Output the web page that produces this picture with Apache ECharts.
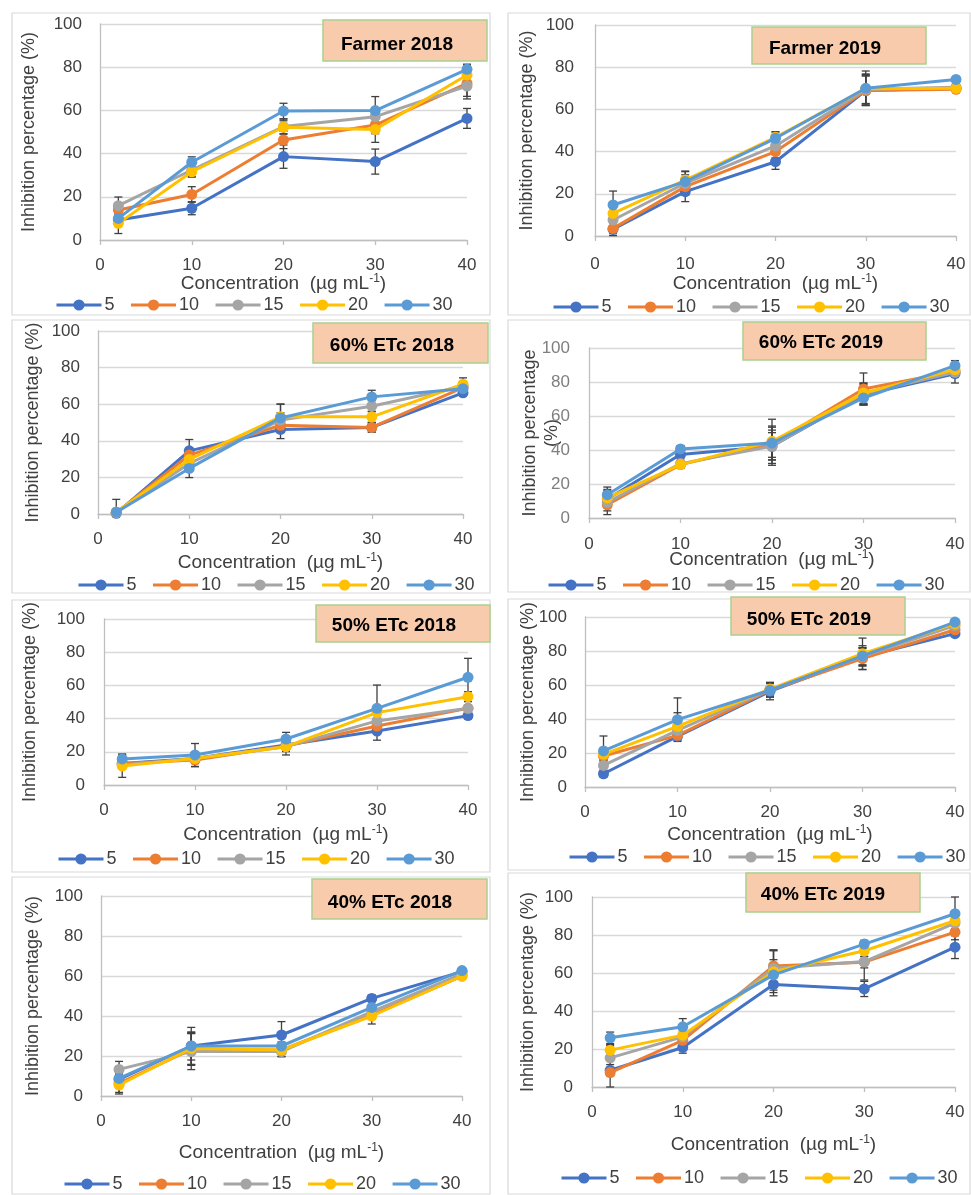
<!DOCTYPE html>
<html>
<head>
<meta charset="utf-8">
<script src="https://cdn.jsdelivr.net/npm/echarts@6/dist/echarts.min.js"></script>
<style>
html,body{margin:0;padding:0;background:#fff;}
#chart{width:971px;height:1195px;}
</style>
</head>
<body>
<div id="chart"></div>
<script>
// ---------------- DATA ----------------
const xValues = [2, 10, 20, 30, 40];
const seriesNames = ['5', '10', '15', '20', '30'];
const xTicks = [0, 10, 20, 30, 40];
const yTicks = [0, 20, 40, 60, 80, 100];

// rows = series 5,10,15,20,30 ; columns = concentrations
const farmer2018 = [
  [9.3, 14.7, 38.6, 36.3, 56.3],
  [13.9, 21.1, 46.3, 53.2, 72.5],
  [15.9, 32.4, 52.5, 57.1, 71.3],
  [7.7, 31.6, 52.2, 51.2, 76.4],
  [10.0, 36.0, 59.7, 59.9, 79.0]
];
const farmer2018Err = [
  [2, 3, 5.4, 5.8, 4.6],
  [3, 3.6, 4, 4, 6],
  [4, 3, 3.5, 4, 6],
  [4.7, 2.5, 3, 6, 5],
  [3, 2.5, 3.6, 6.5, 2]
];
const farmer2019 = [
  [3.2, 21.0, 35.2, 68.9, 70.0],
  [3.6, 23.4, 40.0, 68.9, 69.5],
  [7.6, 25.0, 42.7, 69.5, 70.5],
  [10.7, 26.5, 46.8, 69.8, 70.0],
  [14.7, 25.8, 46.3, 70.0, 74.2]
];
const farmer2019Err = [
  [3, 4.7, 3.6, 7, 1],
  [2.5, 4, 3, 7, 1],
  [3, 4, 3, 7, 1],
  [3, 4, 2.6, 7, 1],
  [6.6, 5, 3, 8.2, 1]
];
const etc60y2018 = [
  [0.4, 34.5, 46.2, 47.3, 66.2],
  [0.7, 32.2, 48.5, 47.3, 69.1],
  [1.0, 27.6, 51.3, 58.9, 69.8],
  [1.0, 29.8, 53.1, 53.1, 70.9],
  [1.0, 24.9, 52.5, 64.0, 68.5]
];
const etc60y2018Err = [
  [1, 6.2, 5, 2.5, 1.5],
  [1.5, 4, 4, 2.5, 2],
  [1.5, 3, 4, 3, 2],
  [2, 3, 7, 3, 3.5],
  [7, 5, 7.5, 3.6, 2]
];
const etc60y2019 = [
  [11.2, 37.3, 42.2, 72.5, 84.9],
  [7.8, 31.4, 43.7, 75.9, 86.3],
  [9.2, 32.0, 42.2, 73.1, 85.7],
  [11.8, 31.4, 45.1, 73.5, 87.3],
  [13.7, 40.6, 44.1, 70.6, 89.6]
];
const etc60y2019Err = [
  [5, 2, 11.2, 6, 5.5],
  [5.8, 2, 8, 9.4, 3],
  [5, 2, 8, 6, 3],
  [5, 2, 13, 6, 3],
  [4.5, 2, 10, 4, 3]
];
const etc50y2018 = [
  [13.0, 16.0, 24.1, 32.5, 41.8],
  [13.0, 15.0, 23.5, 35.5, 46.2],
  [12.0, 16.0, 23.1, 38.6, 46.2],
  [11.4, 16.0, 23.1, 43.6, 53.2],
  [15.7, 18.1, 27.7, 46.2, 64.9]
];
const etc50y2018Err = [
  [2, 2, 3, 5.5, 2],
  [2, 4, 3, 4, 2],
  [2, 3, 3, 4, 2],
  [6.8, 3, 5, 4, 3],
  [3, 6.9, 4, 14, 11.4]
];
const etc50y2019 = [
  [7.8, 29.8, 56.3, 76.5, 90.2],
  [18.2, 30.4, 56.9, 75.5, 92.5],
  [12.7, 33.3, 57.3, 76.9, 95.0],
  [19.2, 35.7, 57.6, 78.4, 96.1],
  [21.2, 39.6, 56.9, 77.1, 97.0]
];
const etc50y2019Err = [
  [2, 2, 5, 5, 1.5],
  [3, 2, 4, 6.5, 1.5],
  [3, 3, 4, 5, 1.5],
  [3, 8, 4, 9.2, 1.5],
  [8.8, 12.8, 4, 6, 1.5]
];
const etc40y2018 = [
  [8.3, 25.0, 30.5, 48.8, 62.2],
  [6.3, 23.3, 23.0, 40.5, 60.0],
  [13.3, 22.2, 22.2, 42.2, 61.0],
  [5.5, 23.8, 23.0, 40.0, 60.0],
  [8.8, 25.0, 25.0, 44.3, 62.7]
];
const etc40y2018Err = [
  [3, 9.3, 6.7, 1.7, 1],
  [4.5, 8, 2, 2, 1],
  [4, 9, 2.5, 2, 1],
  [4.5, 8, 3.3, 4, 1],
  [4, 7, 2, 3, 1]
];
const etc40y2019 = [
  [8.8, 20.8, 54.0, 51.6, 73.6],
  [7.6, 24.6, 63.7, 65.7, 81.5],
  [15.3, 26.4, 62.5, 66.0, 86.3],
  [19.4, 27.3, 60.7, 71.7, 87.5],
  [25.9, 31.7, 59.0, 75.2, 91.2]
];
const etc40y2019Err = [
  [3, 3, 6, 4, 6],
  [7.6, 3, 8.5, 3, 4],
  [6.5, 3, 9.5, 9.7, 3],
  [3, 3, 11, 3, 3],
  [3, 4.3, 8, 2, 8.8]
];

const panelTitles = ['Farmer 2018', 'Farmer 2019', '60% ETc 2018', '60% ETc 2019',
                     '50% ETc 2018', '50% ETc 2019', '40% ETc 2018', '40% ETc 2019'];
const panelValues = [farmer2018, farmer2019, etc60y2018, etc60y2019, etc50y2018, etc50y2019, etc40y2018, etc40y2019];
const panelErrors = [farmer2018Err, farmer2019Err, etc60y2018Err, etc60y2019Err, etc50y2018Err, etc50y2019Err, etc40y2018Err, etc40y2019Err];

// ---------------- LAYOUT / STYLE ----------------
const colors = ['#4472C4', '#ED7D31', '#A5A5A5', '#FFC000', '#5B9BD5'];
const FONT = '"Liberation Sans", Arial, sans-serif';
const layout = [
  {grid:{left:100,top:24,width:367,height:216}, frame:[12,13,478,302], box:[323,20,164,41], text:[397,45], lgTop:296, lgLeft:55, xm:17, xg:33, ym:18, yg:60, yName:'Inhibition percentage (%)', yc:'#404040'},
  {grid:{left:595,top:25,width:361,height:211}, frame:[508,13,462,302], box:[752,27,174,37], text:[825,49], lgTop:298, lgLeft:552, xm:20, xg:37, ym:21, yg:57, yName:'Inhibition percentage (%)', yc:'#404040'},
  {grid:{left:98,top:331,width:365,height:183}, frame:[12,320,478,273], box:[313,323,175,40], text:[392,346], lgTop:576, lgLeft:77, xm:17, xg:38, ym:18, yg:54, yName:'Inhibition percentage (%)', yc:'#404040'},
  {grid:{left:589,top:348,width:366,height:170}, frame:[508,320,462,272], box:[743,322,183,38], text:[821,343], lgTop:576, lgLeft:547, xm:18, xg:31, ym:19, yg:26, yName:'Inhibition percentage\n(%)', yc:'#7F7F7F'},
  {grid:{left:104,top:619,width:364,height:166}, frame:[12,600,478,272], box:[316,605,174,37], text:[394,626], lgTop:850, lgLeft:57, xm:17, xg:39, ym:19, yg:63, yName:'Inhibition percentage (%)', yc:'#404040'},
  {grid:{left:585,top:617,width:370,height:170}, frame:[508,599,462,271], box:[731,597,174,38], text:[809,620], lgTop:848, lgLeft:568, xm:17, xg:37, ym:18, yg:46, yName:'Inhibition percentage (%)', yc:'#404040'},
  {grid:{left:101,top:896,width:361,height:200}, frame:[12,877,478,317], box:[312,879,175,40], text:[390,903], lgTop:1175, lgLeft:63, xm:17, xg:46, ym:18, yg:57, yName:'Inhibition percentage (%)', yc:'#404040'},
  {grid:{left:592,top:897,width:363,height:190}, frame:[508,873,462,321], box:[746,873,174,39], text:[823,895], lgTop:1169, lgLeft:560, xm:17, xg:47, ym:19, yg:53, yName:'Inhibition percentage (%)', yc:'#404040'}
];

const grids = [], xAxes = [], yAxes = [], legends = [], series = [], graphics = [];

layout.forEach((L, p) => {
  grids.push(Object.assign({}, L.grid, {containLabel:false}));
  xAxes.push({
    type:'value', gridIndex:p, min:xTicks[0], max:xTicks[xTicks.length-1], interval:10,
    name:'Concentration  (µg mL{sup|-1})', nameLocation:'middle', nameGap:L.xg, nameMoveOverlap:false,
    nameTextStyle:{fontFamily:FONT, fontSize:19, color:'#404040', lineHeight:22,
      rich:{sup:{fontFamily:FONT, fontSize:12, lineHeight:12, verticalAlign:'top', color:'#404040'}}},
    axisLine:{show:true, onZero:true, lineStyle:{color:'#BFBFBF', width:1.3}},
    axisTick:{show:true, length:5, lineStyle:{color:'#BFBFBF', width:1.3}},
    axisLabel:{fontFamily:FONT, fontSize:17, color:'#404040', margin:L.xm},
    splitLine:{show:false}
  });
  yAxes.push({
    type:'value', gridIndex:p, min:yTicks[0], max:yTicks[yTicks.length-1], interval:20,
    name:L.yName, nameLocation:'middle', nameGap:L.yg, nameRotate:90, nameMoveOverlap:false,
    nameTextStyle:{fontFamily:FONT, fontSize:18, color:'#404040', lineHeight:22},
    axisLine:{show:true, lineStyle:{color:'#BFBFBF', width:1.3}},
    axisTick:{show:false},
    axisLabel:{fontFamily:FONT, fontSize:17, color:L.yc, margin:L.ym},
    splitLine:{show:true, lineStyle:{color:'#D9D9D9', width:1.3}}
  });
  legends.push({
    data:seriesNames, left:L.lgLeft, top:L.lgTop, width:440, orient:'horizontal', padding:0,
    itemWidth:45, itemHeight:14, itemGap:15,
    lineStyle:{width:3},
    textStyle:{fontFamily:FONT, fontSize:18, color:'#404040', padding:[0,0,0,-2]},
    selectedMode:false
  });
  // error bars (drawn beneath lines)
  const errData = [];
  panelValues[p].forEach((row, s) => {
    row.forEach((v, i) => errData.push([xValues[i], v, panelErrors[p][s][i]]));
  });
  series.push({
    type:'custom', xAxisIndex:p, yAxisIndex:p, z:1, silent:true, clip:false,
    data:errData,
    renderItem:function(params, api){
      const x = api.value(0), y = api.value(1), e = api.value(2);
      const top = api.coord([x, Math.min(100, y + e)]);
      const bot = api.coord([x, Math.max(0, y - e)]);
      const w = 4;
      const st = {stroke:'#404040', lineWidth:1.3};
      return {type:'group', children:[
        {type:'line', shape:{x1:top[0], y1:top[1], x2:bot[0], y2:bot[1]}, style:st},
        {type:'line', shape:{x1:top[0]-w, y1:top[1], x2:top[0]+w, y2:top[1]}, style:st},
        {type:'line', shape:{x1:bot[0]-w, y1:bot[1], x2:bot[0]+w, y2:bot[1]}, style:st}
      ]};
    }
  });
  panelValues[p].forEach((row, s) => {
    series.push({
      type:'line', name:seriesNames[s], xAxisIndex:p, yAxisIndex:p, z:2 + s,
      data:row.map((v, i) => [xValues[i], v]),
      symbol:'circle', symbolSize:11, showSymbol:true,
      itemStyle:{color:colors[s]},
      lineStyle:{color:colors[s], width:3},
      emphasis:{disabled:true}, animation:false
    });
  });
  // panel frame
  graphics.push({type:'rect', shape:{x:L.frame[0], y:L.frame[1], width:L.frame[2], height:L.frame[3]},
    style:{fill:null, stroke:'#D9D9D9', lineWidth:1.2}, z:0, silent:true});
  // title box
  graphics.push({type:'rect', shape:{x:L.box[0], y:L.box[1], width:L.box[2], height:L.box[3]},
    style:{fill:'#F8CBAD', stroke:'#A9D18E', lineWidth:1.5}, z:100, silent:true});
  graphics.push({type:'text', x:L.text[0], y:L.text[1], z:101, silent:true,
    style:{text:panelTitles[p], fontFamily:FONT, fontWeight:'bold', fontSize:19, fill:'#000',
      align:'center', verticalAlign:'middle'}});
});

const chart = echarts.init(document.getElementById('chart'), null, {renderer:'canvas'});
chart.setOption({
  backgroundColor:'#ffffff',
  animation:false,
  grid:grids, xAxis:xAxes, yAxis:yAxes, legend:legends, series:series,
  graphic:{elements:graphics}
});
</script>
</body>
</html>
